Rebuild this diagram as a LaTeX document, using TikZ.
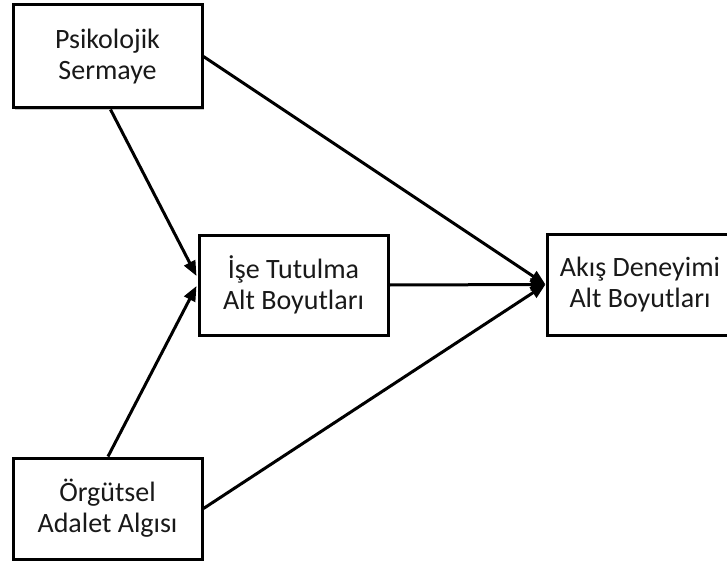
\documentclass[tikz,border=0pt]{standalone}
\usepackage{fontspec}
\setmainfont{Carlito}
\usetikzlibrary{arrows.meta,calc,shadows}
\begin{document}
\begin{tikzpicture}[x=1pt,y=-1pt,
  box/.style={draw=black, line width=3pt, fill=white, align=center,
    text=black!90, font=\fontsize{28}{31}\selectfont,
    drop shadow={shadow xshift=2pt, shadow yshift=-2pt, fill=black, opacity=0.22}},
  link/.style={line width=3pt, -{Triangle[length=15pt,width=12pt]}}]
  \clip (0,0) rectangle (727,564);
  \fill[white] (0,0) rectangle (727,564);

  % construct boxes
  \node[box, minimum width=189pt, minimum height=103pt] (ps) at (107.5,56.5) {Psikolojik\\Sermaye};
  \node[box, minimum width=189pt, minimum height=100pt] (ise) at (293.5,285) {İşe Tutulma\\Alt Boyutları};
  \node[box, minimum width=186pt, minimum height=101pt] (akis) at (640,284.5) {Akış Deneyimi\\Alt Boyutları};
  \node[box, minimum width=189pt, minimum height=101pt] (org) at (107.5,508.5) {Örgütsel\\Adalet Algısı};

  % paths into the mediator
  \draw[link] ($(ps.south)+(3,0)$) -- ($(ise.west)+(-1,-9)$);
  \draw[link] ($(org.north)+(0.5,0)$) -- ($(ise.west)+(-1,1)$);

  % paths into the outcome
  \draw[link] (ps.east) -- (akis.west);
  \draw[link] (ise.east) -- (akis.west);
  \draw[link] (org.east) -- (akis.west);
\end{tikzpicture}
\end{document}
